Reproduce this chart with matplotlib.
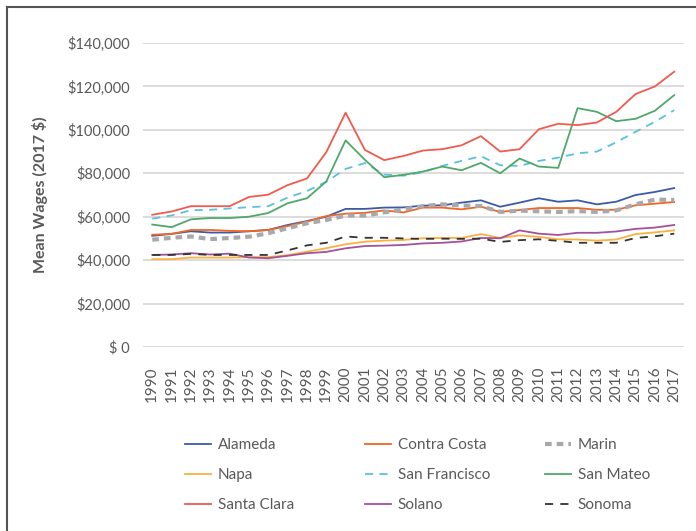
import matplotlib.pyplot as plt
from matplotlib.lines import Line2D
from matplotlib.ticker import FuncFormatter

plt.rcParams['font.family'] = ['Lato', 'DejaVu Sans']

# data (mean wages, 2017 dollars)
years = list(range(1990, 2018))

alameda = [51200, 52100, 53300, 52700, 52700, 53300, 53900, 56200, 58000, 60000,
           63600, 63600, 64200, 64300, 65100, 65250, 66500, 67550, 64600, 66500,
           68500, 66900, 67550, 65700, 66900, 70000, 71400, 73200]
contra_costa = [51700, 52100, 53900, 53900, 53500, 53300, 53900, 55700, 57700, 60300,
                61400, 61800, 62900, 62000, 64200, 64200, 63400, 64600, 62200, 63100,
                64000, 64000, 64000, 63200, 63200, 65250, 66000, 66800]
marin = [49400, 50300, 50900, 49700, 50200, 50800, 52400, 54700, 57000, 58500,
         60500, 60500, 62000, 63400, 64900, 65700, 65200, 64900, 62200, 62800,
         62500, 62200, 62600, 62200, 62900, 65700, 67900, 67700]
napa = [40450, 40450, 41200, 41200, 41200, 41400, 41400, 42300, 43900, 45500,
        47300, 48500, 49000, 49300, 50100, 50200, 50200, 52000, 50200, 51400,
        50700, 49600, 49500, 49000, 49500, 52000, 52800, 53700]
san_francisco = [59100, 60600, 63000, 63200, 63800, 64400, 64850, 68800, 71800, 76100,
                 82000, 84700, 79400, 78900, 80500, 83400, 85700, 87850, 83700, 83400,
                 85700, 87200, 89200, 90000, 94300, 99100, 103700, 109100]
san_mateo = [56400, 55200, 58800, 59400, 59400, 60000, 61700, 66200, 68500, 76200,
             95150, 86200, 78200, 79300, 80800, 83100, 81400, 84800, 80000, 86800,
             83100, 82500, 110000, 108300, 104000, 105100, 108800, 116000]
santa_clara = [60900, 62400, 64850, 64850, 64850, 69100, 70150, 74550, 77600, 89700,
               107900, 90760, 86060, 88000, 90470, 91100, 92900, 97100, 90000, 91100,
               100300, 102800, 102200, 103400, 108300, 116500, 120000, 126800]
solano = [42400, 42600, 43200, 42600, 43000, 41200, 40900, 42000, 43200, 43800,
          45450, 46500, 46700, 47000, 47700, 48000, 48600, 50200, 50100, 53700,
          52200, 51600, 52600, 52600, 53200, 54400, 55000, 56200]
sonoma = [42400, 42400, 42900, 42400, 42400, 42400, 42400, 44500, 46800, 48000,
          50900, 50300, 50300, 50000, 49800, 49900, 49800, 49900, 48400, 49200,
          49600, 48900, 48000, 48000, 48000, 50200, 51000, 52200]

# (label, values, color, width, dashes)
series = [
    ('Alameda', alameda, '#3b5ba9', 1.3, None),
    ('Contra Costa', contra_costa, '#f26522', 1.3, None),
    ('Marin', marin, '#a7a9ac', 3.0, (1.6, 1.2)),
    ('Napa', napa, '#fbb040', 1.3, None),
    ('San Francisco', san_francisco, '#5bc0de', 1.3, (4.5, 3.5)),
    ('San Mateo', san_mateo, '#4fa86a', 1.3, None),
    ('Santa Clara', santa_clara, '#f15a4e', 1.3, None),
    ('Solano', solano, '#a3519b', 1.3, None),
    ('Sonoma', sonoma, '#333333', 1.3, (4.5, 4.0)),
]

fig = plt.figure(figsize=(6.96, 5.31), dpi=100)
ax = fig.add_axes([0.2049, 0.3465, 0.7777, 0.5725])

x = list(range(len(years)))
handles = []
for name, vals, color, lw, dash in series:
    line, = ax.plot(x, vals, color=color, linewidth=lw, label=name)
    if dash:
        line.set_dashes(dash)
    handles.append(line)

ax.set_xlim(-0.5, len(years) - 0.5)
ax.set_ylim(0, 140000)
ax.set_yticks(range(0, 140001, 20000))
ax.yaxis.set_major_formatter(FuncFormatter(lambda v, p: '$ 0' if v == 0 else '${:,.0f}'.format(v)))
ax.set_xticks(x)
ax.set_xticklabels([str(y) for y in years], rotation=90, va='top')

ax.grid(axis='y', color='#d9d9d9', linewidth=1.3)
ax.set_axisbelow(True)
for s in ax.spines.values():
    s.set_visible(False)
ax.tick_params(axis='both', length=0, colors='#58595b', labelsize=10.5)
ax.tick_params(axis='x', labelsize=11, pad=14)
ax.tick_params(axis='y', pad=9)

ax.set_ylabel('Mean Wages (2017 $)', fontsize=11.5, fontweight='bold',
              color='#58595b', labelpad=14)

# legend laid out as three columns like the original
cols = [[0, 3, 6], [1, 4, 7], [2, 5, 8]]
col_x = [185 / 696, 365 / 696, 545 / 696]
for cx, idx in zip(col_x, cols):
    leg = fig.legend([handles[i] for i in idx], [series[i][0] for i in idx],
                     loc='upper left', bbox_to_anchor=(cx, 1 - 438 / 531),
                     frameon=False, fontsize=11, handlelength=1.7,
                     handletextpad=0.45, labelspacing=1.06,
                     borderpad=0, borderaxespad=0)
    for t in leg.get_texts():
        t.set_color('#58595b')

# outer border (top and left edges of the frame)
fig.add_artist(Line2D([7 / 696, 1], [1 - 7 / 531, 1 - 7 / 531], color='#555555', linewidth=1.5))
fig.add_artist(Line2D([7 / 696, 7 / 696], [0, 1 - 7 / 531], color='#555555', linewidth=1.5))

fig.savefig('out.png', dpi=100)
